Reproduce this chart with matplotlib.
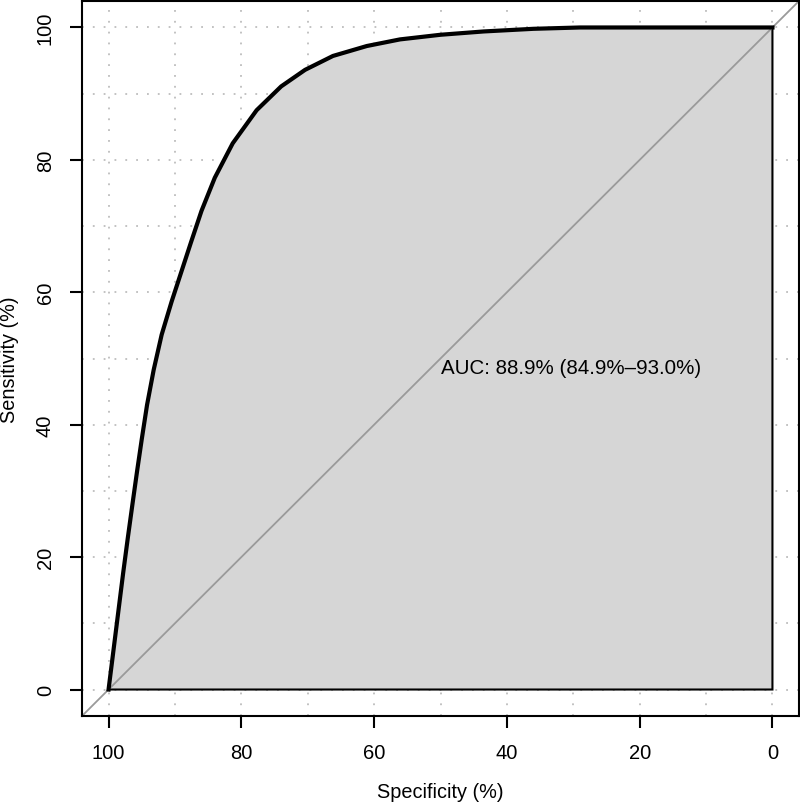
import matplotlib
matplotlib.use("Agg")
import matplotlib.pyplot as plt

# ROC curve (specificity %, sensitivity %)
specificity = [100.0, 99.0, 98.4, 97.8, 97.1, 96.4, 95.7, 95.0, 94.2, 93.2,
               92.0, 90.5, 89.1, 87.6, 86.0, 84.0, 81.3, 77.7, 74.0, 70.4,
               66.2, 61.1, 56.1, 50.0, 43.5, 36.0, 29.0, 0.0]
sensitivity = [0.0, 8.0, 12.8, 17.6, 22.9, 28.0, 33.0, 37.8, 43.0, 48.3,
               53.6, 58.6, 62.9, 67.5, 72.3, 77.3, 82.5, 87.5, 91.1, 93.6,
               95.7, 97.2, 98.2, 98.9, 99.4, 99.8, 100.0, 100.0]

auc_label = "AUC: 88.9% (84.9%\u201393.0%)"
x_ticks = [100, 80, 60, 40, 20, 0]
y_ticks = [0, 20, 40, 60, 80, 100]
grid_vals = [0, 10, 20, 30, 40, 50, 60, 70, 80, 90, 100]

plt.rcParams['font.family'] = ['Liberation Sans', 'DejaVu Sans']

fig = plt.figure(figsize=(8, 8.03), dpi=100)
ax = fig.add_axes([82 / 800, 1 - 717 / 803, 717 / 800, 715 / 803])

ax.set_xlim(104, -4)
ax.set_ylim(-4, 104)

# dotted grid every 10
for g in grid_vals:
    ax.axvline(g, color='#bdbdbd', lw=1.3, ls=(0, (1, 5)), zorder=0)
    ax.axhline(g, color='#bdbdbd', lw=1.3, ls=(0, (1, 5)), zorder=0)

# AUC polygon
poly_x = specificity + [0.0, 100.0]
poly_y = sensitivity + [0.0, 0.0]
ax.fill(poly_x, poly_y, facecolor='#d6d6d6', edgecolor='black', lw=1.5, zorder=1)

# diagonal reference line
ax.plot([104, -4], [-4, 104], color='#9a9a9a', lw=1.3, zorder=2)

# ROC curve
ax.plot(specificity, sensitivity, color='black', lw=3, solid_joinstyle='round', zorder=3)

ax.text(50, 48.6, auc_label, fontsize=14.8, ha='left', va='center', zorder=4)

ax.set_xticks(x_ticks)
ax.set_yticks(y_ticks)
ax.set_xticklabels([str(v) for v in x_ticks])
ax.set_yticklabels([str(v) for v in y_ticks], rotation=90, va='center')
ax.tick_params(direction='out', length=8.5, width=1.5, labelsize=14.5, pad=11)

for s in ax.spines.values():
    s.set_linewidth(1.5)

ax.set_xlabel('Specificity (%)', fontsize=14.3, labelpad=14)
ax.set_ylabel('Sensitivity (%)', fontsize=14.3, labelpad=12)

fig.savefig('out.png', dpi=100)
